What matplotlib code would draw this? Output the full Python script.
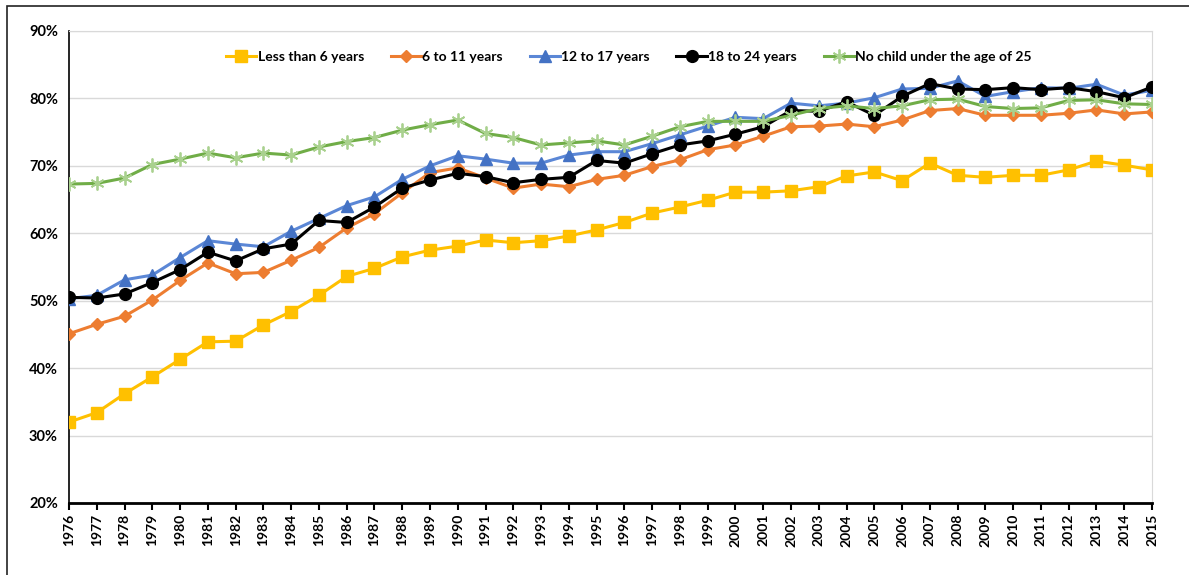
import matplotlib
matplotlib.use("Agg")
import matplotlib.pyplot as plt
from matplotlib.patches import Rectangle
from matplotlib.ticker import FuncFormatter, MultipleLocator

years = list(range(1976, 2016))

less_than_6 = [32.0, 33.4, 36.2, 38.7, 41.3, 43.9, 44.0, 46.4, 48.4, 50.8,
               53.6, 54.8, 56.5, 57.5, 58.1, 59.0, 58.6, 58.9, 59.6, 60.5,
               61.6, 63.0, 63.9, 64.9, 66.1, 66.1, 66.3, 66.9, 68.5, 69.1,
               67.8, 70.4, 68.6, 68.3, 68.6, 68.6, 69.4, 70.7, 70.1, 69.4]

six_to_11 = [45.1, 46.5, 47.7, 50.1, 53.0, 55.6, 54.0, 54.2, 56.0, 57.9,
             60.8, 62.9, 66.0, 69.0, 69.7, 68.2, 66.7, 67.3, 66.9, 68.0,
             68.6, 69.9, 70.9, 72.4, 73.1, 74.4, 75.8, 75.9, 76.2, 75.8,
             76.8, 78.2, 78.5, 77.5, 77.5, 77.5, 77.8, 78.3, 77.7, 78.0]

twelve_to_17 = [50.3, 50.8, 53.1, 53.8, 56.4, 58.9, 58.4, 58.0, 60.3, 62.2,
                64.1, 65.4, 68.0, 70.0, 71.5, 71.0, 70.4, 70.4, 71.6, 72.1,
                72.1, 73.3, 74.6, 75.9, 77.2, 77.0, 79.3, 78.9, 79.3, 80.1,
                81.4, 81.5, 82.6, 80.3, 81.0, 81.6, 81.5, 82.1, 80.5, 81.2]

eighteen_to_24 = [50.5, 50.4, 51.0, 52.7, 54.6, 57.2, 55.9, 57.7, 58.4, 61.9,
                  61.6, 63.9, 66.7, 67.9, 68.9, 68.4, 67.5, 68.0, 68.3, 70.8,
                  70.4, 71.8, 73.1, 73.7, 74.7, 75.8, 78.2, 78.1, 79.5, 77.5,
                  80.3, 82.2, 81.4, 81.3, 81.6, 81.3, 81.6, 81.0, 80.1, 81.7]

no_child = [67.3, 67.4, 68.2, 70.2, 71.0, 71.9, 71.2, 71.9, 71.6, 72.8,
            73.6, 74.2, 75.3, 76.1, 76.8, 74.8, 74.2, 73.1, 73.4, 73.7,
            73.1, 74.4, 75.8, 76.6, 76.6, 76.6, 77.5, 78.5, 78.9, 78.5,
            78.9, 79.8, 79.9, 78.8, 78.5, 78.6, 79.7, 79.8, 79.2, 79.1]

labels = ["Less than 6 years", "6 to 11 years", "12 to 17 years",
          "18 to 24 years", "No child under the age of 25"]

plt.rcParams['font.family'] = ['Lato', 'DejaVu Sans']

fig = plt.figure(figsize=(11.89, 5.75), dpi=100)
ax = fig.add_axes([69/1189, 1 - 503/575, (1152-69)/1189, (503-31)/575])

# outer frame
fig.patches.append(Rectangle((7/1189, -0.05), 1.1, 1 - 6/575 + 0.05,
                             transform=fig.transFigure, fill=False,
                             edgecolor='#222222', linewidth=1.2))

x = list(range(len(years)))
lw = 2.2
ax.plot(x, less_than_6, color='#FFC000', lw=lw, marker='s', ms=8.5,
        label=labels[0], zorder=3)
ax.plot(x, six_to_11, color='#ED7D31', lw=lw, marker='D', ms=6,
        label=labels[1], zorder=4)
ax.plot(x, twelve_to_17, color='#5B87D6', lw=lw, marker='^', ms=8,
        markerfacecolor='#4472C4', markeredgecolor='#4472C4',
        label=labels[2], zorder=5)
ax.plot(x, eighteen_to_24, color='black', lw=lw, marker='o', ms=8.5,
        label=labels[3], zorder=6)
ax.plot(x, no_child, color='#70AD47', lw=lw, marker=(6, 2, 0), ms=10,
        markeredgecolor='#A9D18E', markeredgewidth=1.3,
        label=labels[4], zorder=7)

ax.set_xlim(0, len(years) - 1)
ax.set_ylim(20, 90)
ax.yaxis.set_major_locator(MultipleLocator(10))
ax.yaxis.set_major_formatter(FuncFormatter(lambda v, p: f"{int(round(v))}%"))
ax.set_xticks(x)
ax.set_xticklabels([str(y) for y in years], rotation=90, fontweight='bold',
                   fontsize=10)
for t in ax.get_yticklabels():
    t.set_fontweight('bold')
    t.set_fontsize(10.5)

ax.grid(axis='y', color='#D9D9D9', lw=1)
ax.set_axisbelow(True)
ax.spines['top'].set_color('#D9D9D9')
ax.spines['right'].set_color('#D9D9D9')
ax.spines['left'].set_color('black')
ax.spines['left'].set_linewidth(1.2)
ax.spines['bottom'].set_color('black')
ax.spines['bottom'].set_linewidth(2)
ax.tick_params(axis='y', length=0, pad=8)
ax.tick_params(axis='x', direction='out', length=5, width=1.5, pad=3)

leg = ax.legend(loc='upper center', bbox_to_anchor=(0.517, 0.985), ncol=5,
                frameon=False, handlelength=2.2, columnspacing=1.9,
                handletextpad=0.1, prop={'weight': 'bold', 'size': 10})

fig.savefig("out.png", dpi=100)
